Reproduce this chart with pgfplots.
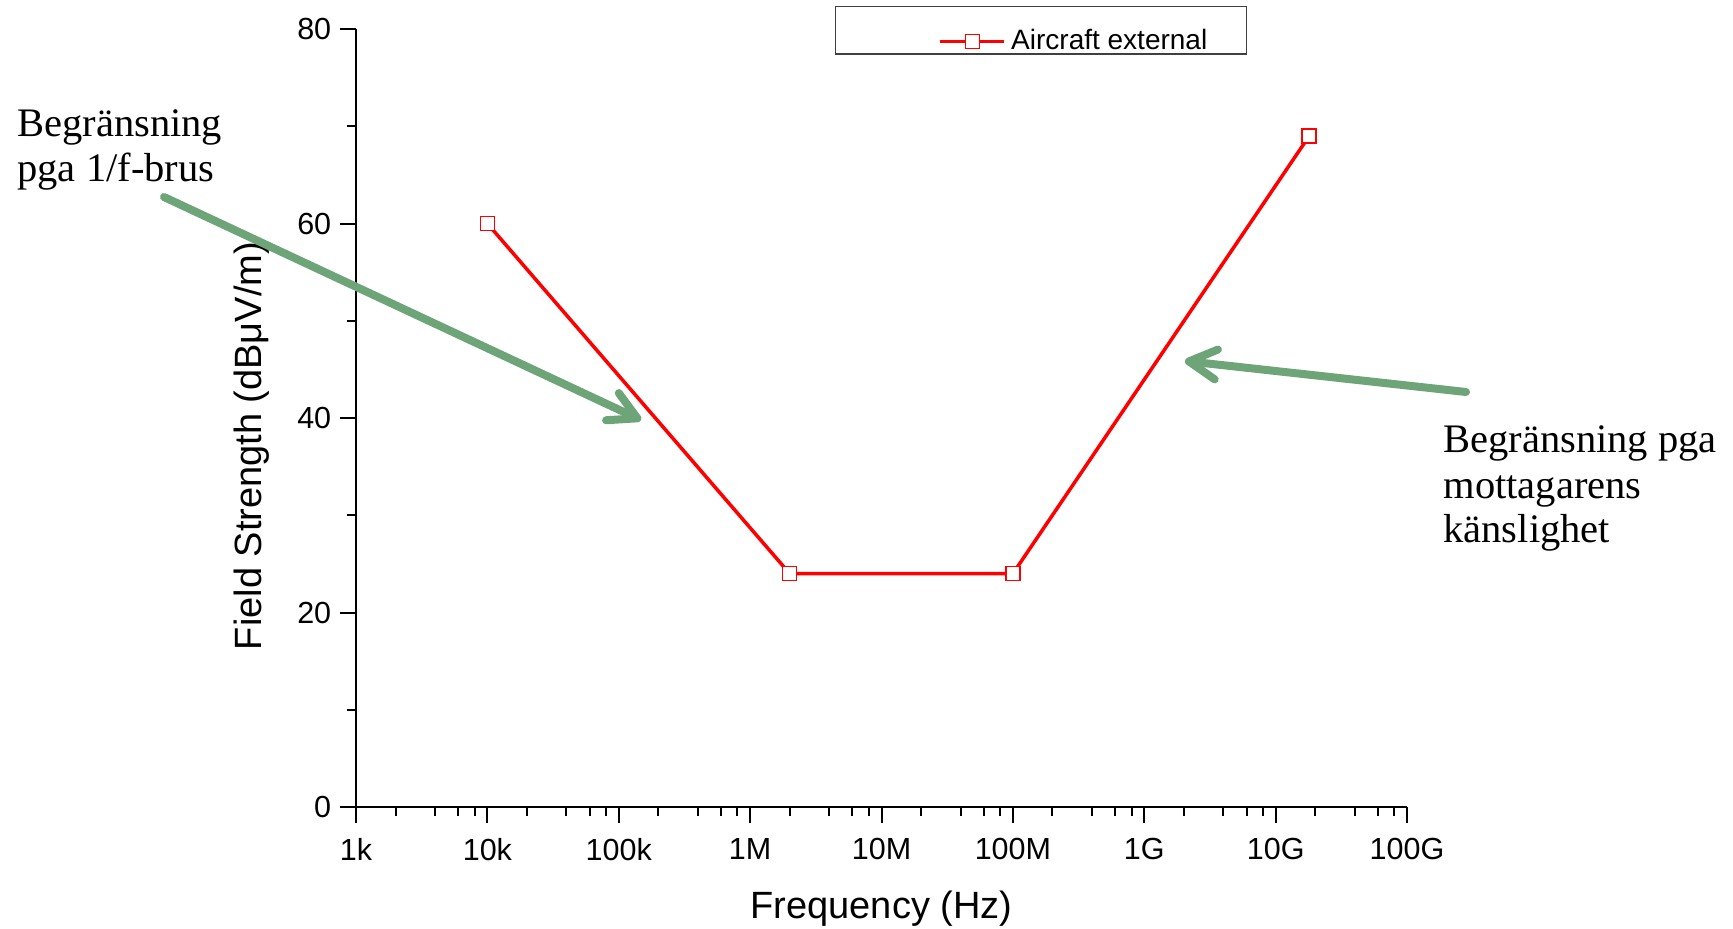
\documentclass[border=0pt]{standalone}
\usepackage{pgfplots}
\pgfplotsset{compat=1.18}
\usepackage{fontspec}
\setmainfont{Liberation Sans}
\newfontfamily\seriffont{Liberation Serif}
\usetikzlibrary{arrows.meta}
\definecolor{arrowgreen}{RGB}{110,165,120}
\definecolor{lineRed}{RGB}{255,0,0}
\begin{document}
\begin{tikzpicture}
\begin{axis}[
  name=ax,
  scale only axis,
  width=420.4pt, height=311.2pt,
  xmode=log,
  xmin=1e3, xmax=1e11,
  ymin=0, ymax=80,
  axis x line*=bottom, axis y line*=left,
  axis line style={-, line width=1pt},
  tick align=outside,
  major tick length=6.4pt, minor tick length=3.6pt,
  every tick/.style={black, line width=0.8pt},
  xtick={1e3,1e4,1e5,1e6,1e7,1e8,1e9,1e10,1e11},
  xticklabels={1k,10k,100k,1M,10M,100M,1G,10G,100G},
  minor xtick={2e3,4e3,6e3,8e3,2e4,4e4,6e4,8e4,2e5,4e5,6e5,8e5,2e6,4e6,6e6,8e6,2e7,4e7,6e7,8e7,2e8,4e8,6e8,8e8,2e9,4e9,6e9,8e9,2e10,4e10,6e10,8e10},
  ytick={0,20,40,60,80},
  minor ytick={10,30,50,70},
  /pgf/number format/assume math mode=true,
  ticklabel style={font=\fontsize{12.2}{14}\selectfont},
  xticklabel style={yshift=-2.6pt},
  xlabel={Frequency (Hz)},
  ylabel={Field Strength (dBμV/m)},
  label style={font=\fontsize{15.2}{18}\selectfont, inner sep=0pt},
  xlabel style={at={(axis description cs:0.5,-0.131)}, anchor=center},
  ylabel style={at={(axis description cs:-0.099,0.464)}, anchor=center},
  clip=false,
  legend style={at={(axis description cs:0.4557,1.0302)}, anchor=north west,
    draw=black!75, line width=0.6pt, inner xsep=0pt, inner ysep=0pt,
    nodes={inner ysep=0.2pt},
    font=\fontsize{11.2}{13}\selectfont,
    /tikz/every even column/.append style={column sep=0pt}},
  legend image code/.code={%
    \path (-41.2pt,13.3pt) (25.6pt,0pt);
    \draw[mark repeat=2,mark phase=2,#1] plot coordinates {(0pt,0pt) (12.8pt,0pt) (25.6pt,0pt)};},
]
\addplot[color=lineRed, line width=1.4pt, mark=square*, mark size=2.8pt,
  mark options={solid, fill=white, draw=lineRed, line width=0.6pt}]
  coordinates {(1e4,60) (2e6,24) (1e8,24) (1.8e10,69)};
\addlegendentry{Aircraft external\rule{13.7pt}{0pt}}
\end{axis}
\begin{scope}[shift={(ax.south west)}]
\begin{scope}[xshift=-142.4pt, yshift=322.8pt, x=0.4pt, y=-0.4pt]
  \path (0,0) rectangle (1733,928);
  \draw[arrowgreen, line width=3.2pt, line cap=round,
    -{Straight Barb[length=11pt, width=12pt, line cap=round, round]}]
    (164,197) -- (641,420);
  \draw[arrowgreen, line width=3.2pt, line cap=round,
    -{Straight Barb[length=11pt, width=12pt, line cap=round, round]}]
    (1466,392) -- (1185,361);
  \begin{scope}[every node/.style={anchor=base west, inner sep=0pt, font=\seriffont\fontsize{16.2}{18}\selectfont}]
    \node at (17,137) {Begränsning};
    \node at (17,182) {pga 1/f-brus};
    \node at (1443,453) {Begränsning pga};
    \node at (1443,498) {mottagarens};
    \node at (1443,542) {känslighet};
  \end{scope}
\end{scope}
\end{scope}
\end{tikzpicture}
\end{document}
